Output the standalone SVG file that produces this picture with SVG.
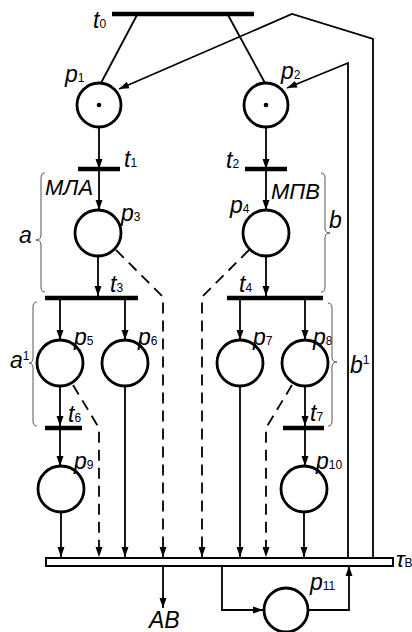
<svg xmlns="http://www.w3.org/2000/svg" width="412" height="632" viewBox="0 0 412 632">
<defs>
<marker id="ah" viewBox="0 0 10 10" refX="10" refY="5" markerWidth="10" markerHeight="10" markerUnits="userSpaceOnUse" orient="auto">
<path d="M0,1.5 L10,5 L0,8.5 Z" fill="#000"/>
</marker>
<style>
.pl{fill:#fff;stroke:#000;stroke-width:2.8}
.bar{stroke:#000;stroke-width:4.5;fill:none}
.ln{stroke:#000;stroke-width:1.8;fill:none}
.ar{stroke:#000;stroke-width:1.8;fill:none;marker-end:url(#ah)}
.da{stroke:#000;stroke-width:1.8;fill:none;stroke-dasharray:11 7;marker-end:url(#ah)}
.br{stroke:#555;stroke-width:1;fill:none}
text{font-family:"Liberation Sans",Arial,sans-serif;font-style:italic;fill:#000}
.lb{font-size:23px}
.sb{font-size:12px;font-style:normal}
.big{font-size:22px}
</style>
</defs>
<rect width="412" height="632" fill="#fff"/>
<g id="connectors">
<line class="ln" x1="137" y1="15" x2="101" y2="83"/>
<line class="ln" x1="228" y1="15" x2="265" y2="83"/>
<polyline class="ar" points="373,558 373,39 292,14 119,89"/>
<polyline class="ar" points="348,558 348,63 287,88"/>
<line class="ar" x1="99" y1="127" x2="99" y2="169"/>
<line class="ar" x1="99" y1="169" x2="99" y2="210"/>
<line class="ar" x1="266" y1="127" x2="266" y2="169"/>
<line class="ar" x1="266" y1="169" x2="266" y2="210"/>
<line class="ar" x1="98" y1="256" x2="98" y2="296"/>
<line class="ar" x1="266" y1="256" x2="266" y2="296"/>
<line class="ar" x1="60" y1="300" x2="60" y2="340"/>
<line class="ar" x1="125" y1="300" x2="125" y2="340"/>
<line class="ar" x1="240" y1="300" x2="240" y2="340"/>
<line class="ar" x1="305" y1="300" x2="305" y2="340"/>
<line class="ar" x1="60" y1="386" x2="60" y2="426"/>
<line class="ar" x1="60" y1="428" x2="60" y2="466"/>
<line class="ar" x1="305" y1="386" x2="305" y2="426"/>
<line class="ar" x1="305" y1="428" x2="305" y2="466"/>
<line class="ar" x1="61" y1="512" x2="61" y2="557"/>
<line class="ar" x1="125" y1="386" x2="125" y2="557"/>
<line class="ar" x1="240" y1="386" x2="240" y2="557"/>
<line class="ar" x1="304" y1="512" x2="304" y2="557"/>
<polyline class="da" points="116,250 163,297 163,557"/>
<polyline class="da" points="249,250 202,297 202,557"/>
<polyline class="da" points="73,385 99,428 99,557"/>
<polyline class="da" points="292,385 266,428 266,557"/>
<line class="ar" x1="163" y1="566" x2="163" y2="608"/>
<polyline class="ar" points="222,566 222,610 263,610"/>
<polyline class="ar" points="308,610 349,610 349,566"/>
</g>
<g id="t0"><line class="bar" x1="112" y1="14" x2="254" y2="14"/><text class="lb" x="93" y="28">t<tspan class="sb">0</tspan></text></g>
<g id="p1"><circle class="pl" cx="99" cy="105" r="22"/><circle cx="99" cy="105" r="2.3"/><text class="lb" x="65" y="82">p<tspan class="sb">1</tspan></text></g>
<g id="p2"><circle class="pl" cx="266" cy="105" r="22"/><circle cx="266" cy="105" r="2.3"/><text class="lb" x="281" y="79">p<tspan class="sb">2</tspan></text></g>
<g id="t1"><line class="bar" x1="78" y1="169" x2="120" y2="169"/><text class="lb" x="124" y="167">t<tspan class="sb">1</tspan></text></g>
<g id="t2"><line class="bar" x1="245" y1="169" x2="287" y2="169"/><text class="lb" x="226" y="168">t<tspan class="sb">2</tspan></text></g>
<g id="mla"><text class="big" x="45" y="195">МЛА</text></g>
<g id="mpv"><text class="big" x="271" y="199">МПВ</text></g>
<g id="p3"><circle class="pl" cx="98" cy="233" r="23"/><text class="lb" x="121" y="221">p<tspan class="sb">3</tspan></text></g>
<g id="p4"><circle class="pl" cx="266" cy="233" r="23"/><text class="lb" x="230" y="213">p<tspan class="sb">4</tspan></text></g>
<g id="brace-a"><path class="br" d="M45,173 Q41,173 41,178 L41,235 Q41,240 36,240 Q41,240 41,245 L41,287 Q41,292 45,292"/><text class="lb" x="19" y="243">a</text></g>
<g id="brace-b"><path class="br" d="M321,173 Q325,173 325,178 L325,228 Q325,233 330,233 Q325,233 325,238 L325,287 Q325,292 321,292"/><text class="lb" x="329" y="228">b</text></g>
<g id="t3"><line class="bar" x1="45" y1="298" x2="138" y2="298"/><text class="lb" x="110" y="292">t<tspan class="sb">3</tspan></text></g>
<g id="t4"><line class="bar" x1="227" y1="298" x2="323" y2="298"/><text class="lb" x="239" y="292">t<tspan class="sb">4</tspan></text></g>
<g id="p5"><circle class="pl" cx="60" cy="363" r="23"/><text class="lb" x="74" y="345">p<tspan class="sb">5</tspan></text></g>
<g id="p6"><circle class="pl" cx="125" cy="363" r="23"/><text class="lb" x="138" y="345">p<tspan class="sb">6</tspan></text></g>
<g id="p7"><circle class="pl" cx="240" cy="363" r="23"/><text class="lb" x="253" y="345">p<tspan class="sb">7</tspan></text></g>
<g id="p8"><circle class="pl" cx="305" cy="363" r="23"/><text class="lb" x="313" y="345">p<tspan class="sb">8</tspan></text></g>
<g id="brace-a1"><path class="br" d="M37,302 Q33,302 33,307 L33,358 Q33,363 29,363 Q33,363 33,368 L33,421 Q33,426 37,426"/><text class="lb" x="10" y="368">a<tspan class="sb" dy="-8">1</tspan></text></g>
<g id="brace-b1"><path class="br" d="M328,303 Q332,303 332,308 L332,357 Q332,362 337,362 Q332,362 332,367 L332,421 Q332,426 328,426"/><text class="lb" x="350" y="373">b<tspan class="sb" dy="-9">1</tspan></text></g>
<g id="t6"><line class="bar" x1="45" y1="428" x2="82" y2="428"/><text class="lb" x="68" y="422">t<tspan class="sb">6</tspan></text></g>
<g id="t7"><line class="bar" x1="283" y1="428" x2="324" y2="428"/><text class="lb" x="310" y="421">t<tspan class="sb">7</tspan></text></g>
<g id="p9"><circle class="pl" cx="61" cy="489" r="23"/><text class="lb" x="74" y="469">p<tspan class="sb">9</tspan></text></g>
<g id="p10"><circle class="pl" cx="304" cy="489" r="23"/><text class="lb" x="316" y="469">p<tspan class="sb">10</tspan></text></g>
<g id="tauB"><rect x="46" y="558" width="347" height="8" fill="#fff" stroke="#000" stroke-width="2"/><text class="lb" x="396" y="567">τ<tspan class="sb">В</tspan></text></g>
<g id="AB"><text class="lb" x="149" y="628">AB</text></g>
<g id="p11"><circle class="pl" cx="286" cy="610" r="22"/><text class="lb" x="310" y="590">p<tspan class="sb">11</tspan></text></g>
</svg>
